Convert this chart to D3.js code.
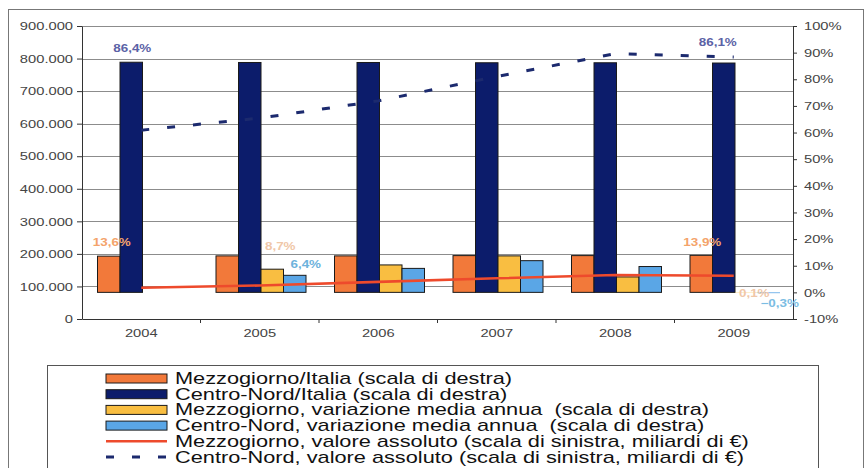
<!DOCTYPE html>
<html>
<head>
<meta charset="utf-8">
<script src="https://cdn.jsdelivr.net/npm/d3@7"></script>
<style>
  body { margin: 0; background: #fff; }
  svg { display: block; font-family: "Liberation Sans", Arial, sans-serif; }
</style>
</head>
<body>
<svg id="chart" width="865" height="468"></svg>
<script>
// data
const years = ["2004", "2005", "2006", "2007", "2008", "2009"];
const mezzItalia = [13.6, 13.7, 13.7, 13.8, 13.8, 13.9];   // % (right scale)
const cnItalia = [86.4, 86.3, 86.3, 86.2, 86.2, 86.1];     // % (right scale)
const mezzVar = [null, 8.7, 10.3, 13.7, 5.8, 0.1];         // % (right scale)
const cnVar = [null, 6.4, 9.0, 11.9, 9.7, -0.3];           // % (right scale)
const mezzAbs = [96000, 103000, 114000, 125000, 135000, 133000];   // left scale
const cnAbs = [580000, 617000, 670000, 745000, 815000, 805000];    // left scale
const leftTicks = [0, 100000, 200000, 300000, 400000, 500000, 600000, 700000, 800000, 900000];
const rightTicks = [-10, 0, 10, 20, 30, 40, 50, 60, 70, 80, 90, 100];

const legendLabels = [
  "Mezzogiorno/Italia (scala di destra)",
  "Centro-Nord/Italia (scala di destra)",
  "Mezzogiorno, variazione media annua  (scala di destra)",
  "Centro-Nord, variazione media annua  (scala di destra)",
  "Mezzogiorno, valore assoluto (scala di sinistra, miliardi di \u20ac)",
  "Centro-Nord, valore assoluto (scala di sinistra, miliardi di \u20ac)"
];

const ORANGE = "#f2793a";
const NAVY = "#0c1c6b";
const YELLOW = "#f9be41";
const LBLUE = "#5aa6e6";
const RED = "#ee4a2c";
const DASH = "#1c2a6e";
const SX = 1.28; // the picture is stretched sideways

const barSeries = [
  { key: "mi", values: mezzItalia, color: ORANGE },
  { key: "ci", values: cnItalia, color: NAVY },
  { key: "mv", values: mezzVar, color: YELLOW },
  { key: "cv", values: cnVar, color: LBLUE }
];

const svg = d3.select("#chart");

// frame around the whole chart
svg.append("rect")
  .attr("x", 8.5).attr("y", 9.5)
  .attr("width", 855).attr("height", 500)
  .attr("fill", "none").attr("stroke", "#777");

const pLeft = 82, pRight = 793, pTop = 26, pBottom = 319;

const x0 = d3.scaleBand().domain(years).range([pLeft, pRight]);
const x1 = d3.scaleBand().domain(barSeries.map(s => s.key)).range([15.5, 105.5]);
const yL = d3.scaleLinear().domain([0, 900000]).range([pBottom, pTop]);
const yR = d3.scaleLinear().domain([-10, 100]).range([pBottom, pTop]);

// gridlines on the left scale
svg.append("g")
  .selectAll("line")
  .data(leftTicks.filter(d => d > 0))
  .join("line")
  .attr("x1", pLeft).attr("x2", pRight)
  .attr("y1", d => Math.round(yL(d)) + 0.5)
  .attr("y2", d => Math.round(yL(d)) + 0.5)
  .attr("stroke", "#8c8c8c");

// bars
const groups = svg.append("g")
  .selectAll("g")
  .data(years)
  .join("g")
  .attr("transform", d => `translate(${x0(d)},0)`);

groups.selectAll("rect")
  .data((d, i) => barSeries.filter(s => s.values[i] != null)
    .map(s => ({ key: s.key, color: s.color, v: s.values[i] })))
  .join("rect")
  .attr("x", d => x1(d.key))
  .attr("width", x1.bandwidth())
  .attr("y", d => Math.min(yR(d.v), yR(0)))
  .attr("height", d => Math.abs(yR(d.v) - yR(0)))
  .attr("fill", d => d.color)
  .attr("stroke", d => Math.abs(yR(d.v) - yR(0)) < 2 ? "none" : "#1a1a1a")
  .attr("stroke-width", 1);

// lines on the left scale
const cx = d => x0(d) + x0.bandwidth() / 2;
const line = d3.line().x((d, i) => cx(years[i])).y(d => yL(d));

svg.append("path")
  .attr("d", line(mezzAbs))
  .attr("fill", "none").attr("stroke", RED).attr("stroke-width", 2.6);

svg.append("path")
  .attr("d", line(cnAbs))
  .attr("fill", "none").attr("stroke", DASH).attr("stroke-width", 3)
  .attr("stroke-dasharray", "8,18");

// axes
const fmtL = d => d === 0 ? "0" : d3.format(",")(d).replace(/,/g, ".");

const gL = svg.append("g")
  .attr("transform", `translate(${pLeft},0)`)
  .call(d3.axisLeft(yL).tickValues(leftTicks).tickFormat(fmtL).tickSize(5).tickSizeOuter(0));
gL.selectAll("text").attr("x", 0).attr("transform", `translate(-9,0) scale(${SX},1)`);

const gR = svg.append("g")
  .attr("transform", `translate(${pRight},0)`)
  .call(d3.axisRight(yR).tickValues(rightTicks).tickFormat(d => d + "%").tickSize(4).tickSizeOuter(0));
gR.selectAll("text").attr("x", 0).attr("transform", `translate(11,0) scale(${SX},1)`);

const gX = svg.append("g")
  .attr("transform", `translate(0,${pBottom})`)
  .call(d3.axisBottom(x0).tickSize(0).tickSizeOuter(0));
gX.selectAll("text").attr("y", 0).attr("dy", "0.32em")
  .attr("transform", `translate(0,14) scale(${SX},1)`);
gX.append("g")
  .selectAll("line")
  .data(years.slice(1))
  .join("line")
  .attr("x1", d => x0(d)).attr("x2", d => x0(d))
  .attr("y1", 0).attr("y2", 4)
  .attr("stroke", "#333");

[gL, gR, gX].forEach(g => {
  g.selectAll("path, line").attr("stroke", "#333");
  g.selectAll("text").attr("fill", "#444").style("font-size", "11.5px");
});

// data labels (offsets follow the picture, the labels were moved by hand)
const fmtP = v => d3.format(".1f")(v).replace(".", ",") + "%";
const labels = [
  { s: 1, i: 0, dx: 1, dy: -10, color: "#5b62a6" },
  { s: 1, i: 5, dx: -6, dy: -17, color: "#5b62a6" },
  { s: 0, i: 0, dx: 3, dy: -10, color: "#f4a36a" },
  { s: 0, i: 5, dx: 1, dy: -9, color: "#f4a36a" },
  { s: 2, i: 1, dx: 8, dy: -19, color: "#f0c7a8" },
  { s: 3, i: 1, dx: 11, dy: -7, color: "#6cb2dc" },
  { s: 2, i: 5, dx: 8, dy: 5, color: "#f0c7a8" },
  { s: 3, i: 5, dx: 11, dy: 14, color: "#7bbde3" }
];
svg.append("g")
  .selectAll("text")
  .data(labels)
  .join("text")
  .attr("transform", d => {
    const s = barSeries[d.s];
    const v = s.values[d.i];
    const px = x0(years[d.i]) + x1(s.key) + x1.bandwidth() / 2 + d.dx;
    const py = yR(v) + d.dy;
    return `translate(${px},${py}) scale(${SX},1)`;
  })
  .attr("text-anchor", "middle")
  .attr("fill", d => d.color)
  .style("font-size", "10.5px")
  .style("font-weight", "bold")
  .text(d => fmtP(barSeries[d.s].values[d.i]));

// legend
svg.append("rect")
  .attr("x", 47.5).attr("y", 365.5)
  .attr("width", 771).attr("height", 200)
  .attr("fill", "#fff").attr("stroke", "#555");

const legendItems = [
  { type: "rect", color: ORANGE },
  { type: "rect", color: NAVY },
  { type: "rect", color: YELLOW },
  { type: "rect", color: LBLUE },
  { type: "line", color: RED },
  { type: "dash", color: DASH }
];
const ly = i => 378.5 + i * 15.7;

const lg = svg.append("g")
  .selectAll("g")
  .data(legendItems)
  .join("g")
  .attr("transform", (d, i) => `translate(0,${ly(i)})`);

lg.filter(d => d.type === "rect").append("rect")
  .attr("x", 106).attr("y", -4.5).attr("width", 61).attr("height", 9)
  .attr("fill", d => d.color).attr("stroke", "#1a1a1a");

lg.filter(d => d.type !== "rect").append("line")
  .attr("x1", 106).attr("x2", 167)
  .attr("stroke", d => d.color)
  .attr("stroke-width", d => d.type === "line" ? 2.6 : 3)
  .attr("stroke-dasharray", d => d.type === "dash" ? "8,18" : null);

lg.append("text")
  .attr("transform", `translate(175,5.5) scale(1.36,1)`)
  .attr("fill", "#111")
  .style("font-size", "16px")
  .style("white-space", "pre")
  .text((d, i) => legendLabels[i]);
</script>
</body>
</html>
